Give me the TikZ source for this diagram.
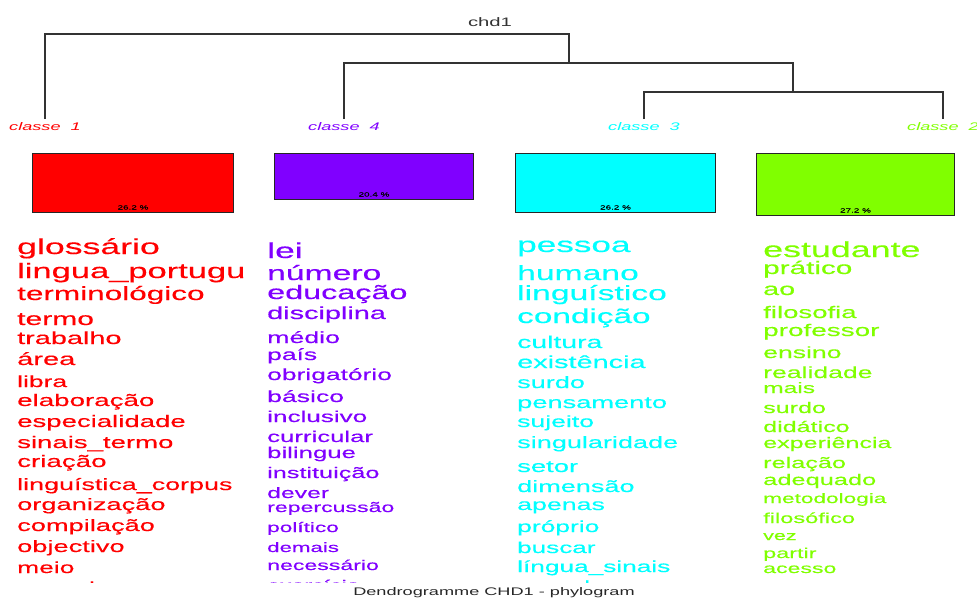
\documentclass[tikz,border=0pt]{standalone}
\usepackage{fontspec}
\setmainfont{Liberation Sans}
\newfontfamily\wf{Liberation Sans}[FakeStretch=1.65]
\newfontfamily\wfb{Liberation Sans}[FakeStretch=1.65,FakeBold=0.35]
\definecolor{clone}{HTML}{FF0000}
\definecolor{clfour}{HTML}{8000FF}
\definecolor{clthree}{HTML}{00FFFF}
\definecolor{cltwo}{HTML}{80FF00}
\tikzset{
  word/.style={anchor=base west, inner sep=0pt},
  leaf/.style={font=\wf\itshape\fontsize{11}{11}\selectfont, anchor=base, inner sep=0pt, outer sep=4pt},
  bar/.style={draw=black!85, line width=1pt, anchor=north west, inner sep=0pt},
  pct/.style={font=\wfb\fontsize{6}{6}\selectfont, anchor=base, inner sep=0pt, yshift=3.5pt},
  branch/.style={draw=black!80, line width=1.2pt}
}

\begin{document}
\begin{tikzpicture}[x=1pt,y=-1pt]
\useasboundingbox (0,0) rectangle (977,599);
% dendrogram
\node[font=\wf\fontsize{12.3}{12}\selectfont, text=black!80] (chd) at (490,22) {chd1};
\node[leaf, text=clone] (k1) at (45,131) {classe\ \ 1};
\node[leaf, text=clfour] (k4) at (344,131) {classe\ \ 4};
\node[leaf, text=clthree] (k3) at (644,131) {classe\ \ 3};
\node[leaf, text=cltwo] (k2) at (943,131) {classe\ \ 2};
\coordinate (root) at (569,34);
\coordinate (n4) at (569,63);
\coordinate (n3) at (793,92);
\draw[branch] (k1.north) |- (root) -- (n4);
\draw[branch] (k4.north) |- (n4) -| (n3);
\draw[branch] (k3.north) |- (n3) -| (k2.north);
% class bars
\node[bar, fill=clone, minimum width=201pt, minimum height=59pt] (b1) at (32,153) {};
\node[bar, fill=clfour, minimum width=199pt, minimum height=46pt] (b4) at (274,153) {};
\node[bar, fill=clthree, minimum width=200pt, minimum height=59pt] (b3) at (515,153) {};
\node[bar, fill=cltwo, minimum width=198pt, minimum height=62pt] (b2) at (756,153) {};
\node[pct] (p1) at (b1.south) {26.2 \%};
\node[pct] (p4) at (b4.south) {20.4 \%};
\node[pct] (p3) at (b3.south) {26.2 \%};
\node[pct] (p2) at (b2.south) {27.2 \%};
% word lists
\begin{scope}
\clip (0,226) rectangle (977,582);
\foreach \w/\s/\y [count=\i] in {glossário/21.6/254, lingua\_portugu/20.9/278,
  terminológico/19.1/300, termo/18.2/325, trabalho/17.5/344, área/17.6/365,
  libra/16/387, elaboração/16.8/406, especialidade/16.7/427, sinais\_termo/16.7/448,
  criação/16.8/467, linguística\_corpus/16.3/490, organização/16.5/510,
  compilação/16.5/531, objectivo/16.5/552, meio/16/573, pesquisa/16/593}
  \node[word, text=clone, font=\wfb\fontsize{\s}{\s}\selectfont] (wa\i) at (17,\y) {\w};
\foreach \w/\s/\y [count=\i] in {lei/21.5/258, número/20.4/280, educação/19.6/299,
  disciplina/17.5/319, médio/16.2/343, país/16/360, obrigatório/16/380,
  básico/16.1/402, inclusivo/15.8/422, curricular/15.6/442, bilingue/15.6/458,
  instituição/15.3/478, dever/15/498, repercussão/14/512, político/13.7/532,
  demais/13.5/552, necessário/14/570, exercício/14/590}
  \node[word, text=clfour, font=\wfb\fontsize{\s}{\s}\selectfont] (wb\i) at (267,\y) {\w};
\foreach \w/\s/\y [count=\i] in {pessoa/21.3/252, humano/20.4/280, linguístico/20.4/300,
  condição/20.2/323, cultura/17.2/348, existência/17.5/368, surdo/16.4/388,
  pensamento/16.5/408, sujeito/16.1/427, singularidade/16.4/448, setor/16.6/472,
  dimensão/16.4/492, apenas/16.2/510, próprio/16/532, buscar/15.8/553,
  língua\_sinais/15.9/572, quando/15.9/592}
  \node[word, text=clthree, font=\wfb\fontsize{\s}{\s}\selectfont] (wc\i) at (517,\y) {\w};
\foreach \w/\s/\y [count=\i] in {estudante/21.7/257, prático/18/274, ao/17.4/295,
  filosofia/16.7/318, professor/16.9/336, ensino/16.1/358, realidade/16.1/378,
  mais/14.9/393, surdo/15.2/413, didático/15.2/432, experiência/15.2/448,
  relação/15.3/468, adequado/15.4/485, metodologia/13.7/503, filosófico/14.3/523,
  vez/13/540, partir/14.2/558, acesso/14/573}
  \node[word, text=cltwo, font=\wfb\fontsize{\s}{\s}\selectfont] (wd\i) at (763,\y) {\w};
\end{scope}
\node[font=\wf\fontsize{11}{11}\selectfont, text=black!85, anchor=base] (caption) at (494,595) {Dendrogramme CHD1 - phylogram};
\end{tikzpicture}
\end{document}
